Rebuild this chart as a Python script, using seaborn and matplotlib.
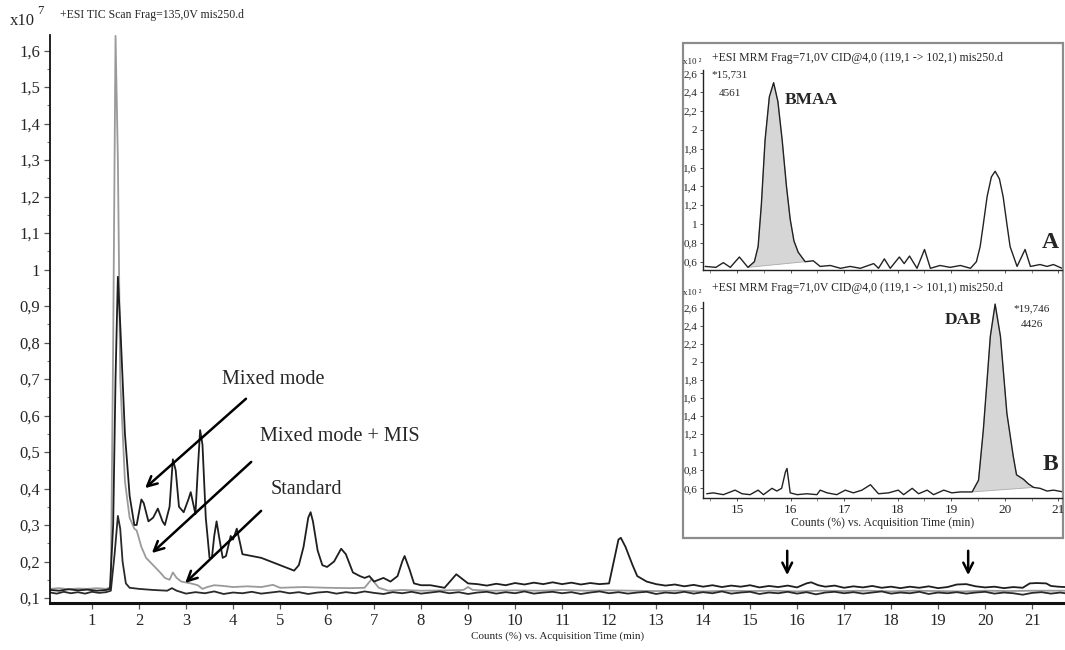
import matplotlib
matplotlib.use("Agg")
import matplotlib.pyplot as plt
from matplotlib.patches import Rectangle
from matplotlib.ticker import FuncFormatter, MultipleLocator
import numpy as np
import pandas as pd
import seaborn as sns

# --- main TIC traces (x10^7 counts vs. acquisition time, min) ---
mm_t = [0.11, 0.3, 0.5, 0.7, 0.9, 1.1, 1.3, 1.38, 1.45, 1.5, 1.55, 1.6, 1.7, 1.8, 1.9, 1.95,
        2.05, 2.1, 2.2, 2.3, 2.4, 2.5, 2.55, 2.65, 2.72, 2.78, 2.85, 2.95, 3.05, 3.1, 3.15, 3.2,
        3.25, 3.3, 3.35, 3.42, 3.5, 3.55, 3.6, 3.65, 3.7, 3.78, 3.85, 3.95, 4.0, 4.08, 4.15, 4.2,
        4.4, 4.6, 4.8, 5.0, 5.2, 5.3, 5.4, 5.5, 5.6, 5.65, 5.7, 5.8, 5.9, 6.0, 6.15, 6.3, 6.4,
        6.55, 6.7, 6.8, 6.9, 7.0, 7.2, 7.35, 7.5, 7.6, 7.65, 7.75, 7.85, 8.0, 8.2, 8.5, 8.65,
        8.75, 8.9,
        9.0, 9.2, 9.4, 9.6, 9.8, 10.0, 10.2, 10.4, 10.6, 10.8, 11.0, 11.2, 11.4, 11.6, 11.8,
        12.0, 12.1, 12.2, 12.25, 12.35, 12.5, 12.6, 12.8, 13.0, 13.2, 13.4, 13.6, 13.8, 14.0,
        14.2, 14.4, 14.6, 14.8, 15.0, 15.2, 15.4, 15.6, 15.8, 16.0, 16.2, 16.3, 16.45, 16.6,
        16.8, 17.0, 17.2, 17.4, 17.6, 17.8, 18.0, 18.2, 18.4, 18.6, 18.8, 19.0, 19.2, 19.4,
        19.6, 19.8, 20.0, 20.2, 20.4, 20.6, 20.8, 20.95, 21.1, 21.3, 21.4, 21.55, 21.7]
mm_v = [0.122, 0.12, 0.124, 0.121, 0.123, 0.12, 0.122, 0.125, 0.3, 0.7, 0.98, 0.85, 0.55, 0.38,
        0.3, 0.3, 0.37, 0.36, 0.31, 0.32, 0.345, 0.31, 0.3, 0.35, 0.48, 0.45, 0.35, 0.335, 0.37,
        0.39, 0.36, 0.33, 0.45, 0.56, 0.52, 0.32, 0.21, 0.21, 0.27, 0.31, 0.27, 0.21, 0.215, 0.27,
        0.26, 0.29, 0.25, 0.22, 0.215, 0.21, 0.2, 0.19, 0.18, 0.175, 0.19, 0.24, 0.32, 0.335,
        0.31, 0.23, 0.19, 0.185, 0.2, 0.235, 0.22, 0.17, 0.16, 0.155, 0.16, 0.145, 0.155, 0.145,
        0.16, 0.2, 0.215, 0.18, 0.14, 0.135, 0.135, 0.128, 0.15, 0.165, 0.15,
        0.14, 0.138, 0.134, 0.139, 0.135, 0.141, 0.137, 0.142, 0.138, 0.143, 0.138, 0.142,
        0.137, 0.141, 0.138, 0.14, 0.2, 0.26, 0.265, 0.24, 0.19, 0.16, 0.145, 0.138, 0.134,
        0.137, 0.132, 0.136, 0.131, 0.135, 0.13, 0.134, 0.131, 0.135, 0.129, 0.133, 0.13, 0.134,
        0.129, 0.14, 0.143, 0.135, 0.131, 0.134, 0.128, 0.132, 0.129, 0.133, 0.128, 0.131,
        0.127, 0.131, 0.128, 0.132, 0.127, 0.13, 0.137, 0.138, 0.132, 0.129, 0.131, 0.127, 0.13,
        0.128, 0.14, 0.141, 0.14, 0.133, 0.131, 0.13]

mis_t = [0.11, 0.3, 0.5, 0.7, 0.9, 1.1, 1.3, 1.4, 1.45, 1.5, 1.55, 1.6, 1.7, 1.8, 1.9, 1.95,
         2.05, 2.15, 2.3, 2.45, 2.55, 2.65, 2.72, 2.8, 2.9, 3.1, 3.25, 3.35, 3.45, 3.6, 3.8, 4.0,
         4.3, 4.6, 4.85, 5.0, 5.5, 6.0, 6.5, 6.8, 6.95, 7.1, 7.3, 7.6, 8.0, 8.5, 8.9, 9.0, 9.1,
         9.5, 10.0, 10.5, 11.0, 11.5, 12.0, 12.5, 13.0, 13.5, 14.0, 14.5, 15.0, 15.5, 16.0,
         16.5, 17.0, 17.5, 18.0, 18.5, 19.0, 19.5, 20.0, 20.5, 21.0, 21.7]
mis_v = [0.125, 0.127, 0.124, 0.126, 0.125, 0.127, 0.125, 0.13, 0.8, 1.64, 1.3, 0.7, 0.42, 0.32,
         0.29, 0.285, 0.24, 0.21, 0.19, 0.17, 0.155, 0.15, 0.17, 0.155, 0.145, 0.14, 0.135,
         0.125, 0.13, 0.135, 0.133, 0.13, 0.132, 0.13, 0.136, 0.128, 0.13, 0.128, 0.127, 0.128,
         0.152, 0.128, 0.12, 0.122, 0.12, 0.121, 0.122, 0.13, 0.122, 0.12, 0.121, 0.12, 0.122,
         0.12, 0.121, 0.12, 0.119, 0.12, 0.118, 0.12, 0.119, 0.12, 0.118, 0.12, 0.119, 0.12,
         0.118, 0.12, 0.119, 0.118, 0.12, 0.119, 0.12, 0.12]

std_t = [0.11, 0.25, 0.4, 0.55, 0.7, 0.85, 1.0, 1.15, 1.3, 1.4, 1.48, 1.55, 1.6, 1.65, 1.72,
         1.8, 2.0, 2.3, 2.6, 2.7, 2.8,
         3.0, 3.2, 3.4, 3.6, 3.8,
         4.0, 4.2, 4.4, 4.6, 4.8,
         5.0, 5.2, 5.4, 5.6, 5.8,
         6.0, 6.2, 6.4, 6.6, 6.8,
         7.0, 7.2, 7.4, 7.6, 7.8,
         8.0, 8.2, 8.4, 8.6, 8.8,
         9.0, 9.2, 9.4, 9.6, 9.8,
         10.0, 10.2, 10.4, 10.6, 10.8,
         11.0, 11.2, 11.4, 11.6, 11.8,
         12.0, 12.2, 12.4, 12.6, 12.8,
         13.0, 13.2, 13.4, 13.6, 13.8,
         14.0, 14.2, 14.4, 14.6, 14.8,
         15.0, 15.2, 15.4, 15.6, 15.8,
         16.0, 16.2, 16.4, 16.6, 16.8,
         17.0, 17.2, 17.4, 17.6, 17.8,
         18.0, 18.2, 18.4, 18.6, 18.8,
         19.0, 19.2, 19.4, 19.6, 19.8,
         20.0, 20.2, 20.4, 20.6, 20.8,
         21.0, 21.2, 21.4, 21.6, 21.7]
std_v = [0.115, 0.112, 0.117, 0.113, 0.116, 0.112, 0.117, 0.114, 0.116, 0.12, 0.22, 0.325, 0.29,
         0.2, 0.14, 0.128, 0.125, 0.122, 0.12, 0.127, 0.12,
         0.112, 0.116, 0.113, 0.118, 0.111,
         0.115, 0.113, 0.117, 0.112, 0.115,
         0.118, 0.113, 0.116, 0.111, 0.115,
         0.117, 0.112, 0.116, 0.113, 0.118,
         0.114, 0.111, 0.116, 0.113, 0.117,
         0.112, 0.115, 0.118, 0.113, 0.116,
         0.111, 0.115, 0.117, 0.112, 0.116,
         0.113, 0.118, 0.112, 0.115, 0.117,
         0.113, 0.116, 0.111, 0.115, 0.118,
         0.113, 0.116, 0.112, 0.115, 0.117,
         0.111, 0.115, 0.113, 0.117, 0.112,
         0.116, 0.113, 0.118, 0.112, 0.115,
         0.117, 0.111, 0.115, 0.113, 0.117,
         0.112, 0.116, 0.110, 0.115, 0.117,
         0.113, 0.116, 0.112, 0.115, 0.118,
         0.112, 0.115, 0.113, 0.117, 0.111,
         0.115, 0.113, 0.116, 0.112, 0.115,
         0.117, 0.112, 0.115, 0.113, 0.109,
         0.114, 0.116, 0.112, 0.115, 0.113]

# --- inset MRM traces (x10^2 counts) ---
a_t = [14.40, 14.6, 14.74, 14.87, 15.04, 15.2, 15.32, 15.39, 15.45, 15.52, 15.6, 15.68, 15.76,
       15.84, 15.92, 15.99, 16.06, 16.14, 16.27, 16.42, 16.55, 16.74, 16.93, 17.11, 17.3, 17.55,
       17.64, 17.75, 17.86, 18.03, 18.12, 18.22, 18.36, 18.5, 18.61, 18.79, 18.98, 19.17, 19.36,
       19.47, 19.54, 19.6, 19.67, 19.75, 19.82, 19.9, 19.97, 20.04, 20.1, 20.23, 20.38, 20.48,
       20.66, 20.79, 20.91, 21.07]
a_v = [0.55, 0.54, 0.59, 0.54, 0.65, 0.54, 0.6, 0.76, 1.2, 1.89, 2.35, 2.5, 2.3, 1.89, 1.4, 1.05,
       0.82, 0.7, 0.6, 0.61, 0.55, 0.56, 0.53, 0.55, 0.53, 0.58, 0.53, 0.63, 0.53, 0.65, 0.58,
       0.66, 0.53, 0.73, 0.53, 0.56, 0.54, 0.56, 0.53, 0.6, 0.76, 1.0, 1.29, 1.5, 1.56, 1.48,
       1.29, 1.0, 0.76, 0.55, 0.73, 0.55, 0.57, 0.55, 0.57, 0.53]
b_t = [14.43, 14.55, 14.74, 14.96, 15.09, 15.24, 15.39, 15.49, 15.65, 15.74, 15.83, 15.9, 15.93,
       15.99, 16.12, 16.3, 16.49, 16.55, 16.68, 16.86, 17.02, 17.17, 17.33, 17.49, 17.64, 17.83,
       18.01, 18.11, 18.27, 18.39, 18.55, 18.67, 18.86, 19.01, 19.17, 19.39, 19.51, 19.6, 19.67,
       19.73, 19.82, 19.92, 20.04, 20.16, 20.22, 20.35, 20.44, 20.54, 20.66, 20.79, 20.91, 21.1]
b_v = [0.54, 0.55, 0.53, 0.58, 0.54, 0.53, 0.58, 0.53, 0.6, 0.57, 0.6, 0.78, 0.82, 0.55, 0.53,
       0.54, 0.53, 0.58, 0.55, 0.53, 0.58, 0.55, 0.58, 0.64, 0.54, 0.55, 0.58, 0.53, 0.6, 0.54,
       0.58, 0.53, 0.58, 0.55, 0.56, 0.56, 0.69, 1.25, 1.8, 2.28, 2.64, 2.28, 1.43, 0.95, 0.75,
       0.7, 0.65, 0.61, 0.6, 0.57, 0.58, 0.56]

bmaa_window = (15.2, 16.27)
dab_window = (19.39, 20.54)

sns.set_style("ticks")
plt.rcParams['font.family'] = ['Liberation Serif', 'DejaVu Serif']

W, H = 1065, 650
fig = plt.figure(figsize=(10.65, 6.5), dpi=100)


def fx(px):
    return px / W


def fy(py):
    return 1 - py / H


def comma(v, pos):
    s = f"{v:.1f}"
    if s.endswith(".0"):
        s = s[:-2]
    return s.replace(".", ",")


# ---------------- main chromatogram ----------------
ax = fig.add_axes([fx(50), fy(603), fx(1065) - fx(50), fy(35) - fy(603)])
sns.lineplot(x=mis_t, y=mis_v, ax=ax, color="#9a9a9a", lw=1.3, sort=False, estimator=None)
sns.lineplot(x=std_t, y=std_v, ax=ax, color="#2a2a2a", lw=1.3, sort=False, estimator=None)
sns.lineplot(x=mm_t, y=mm_v, ax=ax, color="#1e1e1e", lw=1.3, sort=False, estimator=None)

ax.set_xlim(0.106, 21.70)
ax.set_ylim(0.0863, 1.6425)
ax.set_xticks(range(1, 22))
ax.yaxis.set_major_locator(MultipleLocator(0.1))
ax.yaxis.set_minor_locator(MultipleLocator(0.05))
ax.yaxis.set_major_formatter(FuncFormatter(comma))
sns.despine(ax=ax)
ax.spines["left"].set_linewidth(1.3)
ax.spines["bottom"].set_linewidth(2.2)
for s in ("left", "bottom"):
    ax.spines[s].set_color("#111111")
ax.tick_params(which="major", direction="out", length=4, width=0.9, labelsize=12, pad=3,
               color="#555555")
ax.tick_params(which="minor", direction="out", length=2.5, width=0.8, color="#777777")
ax.set_xlabel("Counts (%) vs. Acquisition Time (min)", fontsize=8, labelpad=2)
ax.set_ylabel("")

arrow_kw = dict(arrowstyle="->,head_length=0.7,head_width=0.35", lw=1.8, color="black")
ax.annotate("", xy=(2.085, 0.396), xytext=(4.32, 0.651), arrowprops=arrow_kw)
ax.annotate("", xy=(2.23, 0.218), xytext=(4.43, 0.478), arrowprops=arrow_kw)
ax.annotate("", xy=(2.94, 0.136), xytext=(4.64, 0.344), arrowprops=arrow_kw)
ax.text(3.77, 0.70, "Mixed mode", fontsize=14.5, va="center", ha="left")
ax.text(4.57, 0.542, "Mixed mode + MIS", fontsize=14.5, va="center", ha="left")
ax.text(4.79, 0.396, "Standard", fontsize=14.5, va="center", ha="left")

for xa in (15.79, 19.64):
    ax.annotate("", xy=(xa, 0.155), xytext=(xa, 0.237), arrowprops=arrow_kw)

fig.text(fx(60), fy(15), "+ESI TIC Scan Frag=135,0V mis250.d", fontsize=8.5, va="center")
fig.text(fx(10), fy(21), "x10", fontsize=12, va="center")
fig.text(fx(37), fy(11), "7", fontsize=9, va="center")

# ---------------- inset box ----------------
fig.add_artist(Rectangle((fx(683), fy(538)), fx(1063) - fx(683), fy(43) - fy(538),
                         transform=fig.transFigure, facecolor="white", edgecolor="#8c8c8c",
                         lw=1.6, zorder=3))


def style_inset(axi, ylim, show_x):
    axi.set_zorder(5)
    axi.patch.set_visible(False)
    axi.set_xlim(14.36, 21.07)
    axi.set_ylim(*ylim)
    axi.xaxis.set_major_locator(MultipleLocator(1))
    axi.xaxis.set_minor_locator(MultipleLocator(0.5))
    axi.yaxis.set_major_locator(MultipleLocator(0.2))
    axi.yaxis.set_major_formatter(FuncFormatter(comma))
    sns.despine(ax=axi)
    for s in ("left", "bottom"):
        axi.spines[s].set_linewidth(1.0)
        axi.spines[s].set_color("#222222")
    axi.tick_params(which="major", direction="out", length=2.5, width=0.7, labelsize=8,
                    pad=1.5, color="#555555")
    axi.tick_params(which="minor", direction="out", length=1.8, width=0.6, color="#777777")
    axi.tick_params(axis="x", labelsize=9.5, labelbottom=show_x)
    axi.set_ylabel("")
    axi.set_xlabel("")


def draw_trace(axi, t, v, window):
    sns.lineplot(x=t, y=v, ax=axi, color="#222222", lw=1.0, sort=False, estimator=None)
    t = np.asarray(t)
    v = np.asarray(v)
    m = (t >= window[0]) & (t <= window[1])
    axi.fill(t[m], v[m], facecolor="#d6d6d6", edgecolor="#aaaaaa", lw=0.6, zorder=1)


axA = fig.add_axes([fx(703), fy(270), fx(1062) - fx(703), fy(70) - fy(270)])
draw_trace(axA, a_t, a_v, bmaa_window)
style_inset(axA, (0.512, 2.635), False)
axA.text(14.86, 2.58, "*15,731", fontsize=8, ha="center", va="center")
axA.text(14.87, 2.39, "4561", fontsize=8, ha="center", va="center")
axA.text(16.38, 2.32, "BMAA", fontsize=12.5, fontweight="bold", ha="center", va="center")
axA.text(20.85, 0.80, "A", fontsize=17, fontweight="bold", ha="center", va="center")

axB = fig.add_axes([fx(703), fy(498), fx(1062) - fx(703), fy(301.7) - fy(498)])
draw_trace(axB, b_t, b_v, dab_window)
style_inset(axB, (0.493, 2.666), True)
axB.set_xlabel("Counts (%) vs. Acquisition Time (min)", fontsize=8.5, labelpad=1)
axB.text(20.5, 2.585, "*19,746", fontsize=8, ha="center", va="center")
axB.text(20.5, 2.41, "4426", fontsize=8, ha="center", va="center")
axB.text(19.23, 2.46, "DAB", fontsize=12.5, fontweight="bold", ha="center", va="center")
axB.text(20.85, 0.86, "B", fontsize=17, fontweight="bold", ha="center", va="center")

fig.text(fx(712), fy(58), "+ESI MRM Frag=71,0V CID@4,0 (119,1 -> 102,1) mis250.d",
         fontsize=8.5, va="center", zorder=6)
fig.text(fx(712), fy(288), "+ESI MRM Frag=71,0V CID@4,0 (119,1 -> 101,1) mis250.d",
         fontsize=8.5, va="center", zorder=6)
fig.text(fx(683), fy(62), "x10 \u00b2", fontsize=6.5, va="center", zorder=6)
fig.text(fx(683), fy(293), "x10 \u00b2", fontsize=6.5, va="center", zorder=6)

fig.savefig("out.png", dpi=100)
